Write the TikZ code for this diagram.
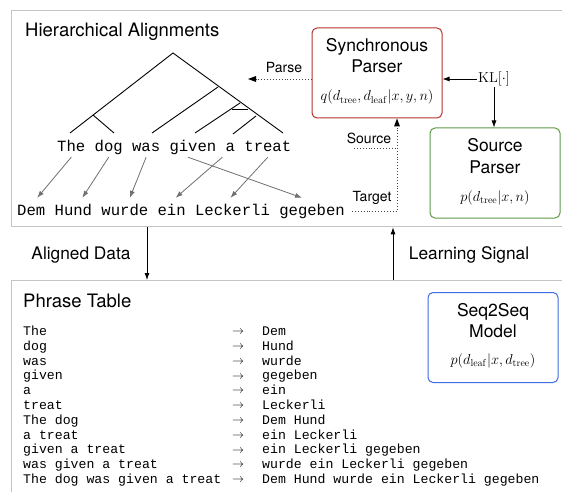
\documentclass[tikz,border=0pt]{standalone}
\usepackage[no-math]{fontspec}
\setmainfont{TeX Gyre Heros}
\setmonofont{Liberation Mono}
\usetikzlibrary{arrows.meta}
\definecolor{panelgray}{HTML}{C4C4C4}
\definecolor{boxred}{HTML}{B8332E}
\definecolor{boxgreen}{HTML}{5E9B47}
\definecolor{boxblue}{HTML}{3F6DE6}
\definecolor{aligngray}{HTML}{707070}
\definecolor{dotgray}{HTML}{444444}
\begin{document}
\begin{tikzpicture}[x=1pt,y=-1pt,
  panel/.style={draw=panelgray,line width=1.3pt,inner sep=0pt,anchor=north west},
  word/.style={font=\fontsize{15.6}{18}\selectfont\ttfamily,inner sep=0pt,anchor=base west,text height=11pt,text depth=3pt},
  ptab/.style={font=\fontsize{13.2}{15}\selectfont\ttfamily,inner sep=0pt,anchor=west,text height=9pt,text depth=3pt},
  parrow/.style={font=\fontsize{13}{15}\selectfont,inner sep=0pt},
  model/.style={rounded corners=5pt,line width=1pt,minimum width=130pt,minimum height=90pt,inner sep=0pt},
  boxtxt/.style={font=\fontsize{17.5}{20}\selectfont,inner sep=0pt,anchor=base},
  formula/.style={font=\fontsize{14.8}{17}\selectfont,inner sep=0pt,anchor=base},
  title/.style={font=\fontsize{18.5}{22}\selectfont,inner sep=0pt,anchor=base west},
  midlbl/.style={font=\fontsize{17.3}{20}\selectfont,inner sep=0pt,anchor=base},
  smalllbl/.style={font=\fontsize{14}{16}\selectfont,inner sep=0pt,anchor=base},
  arr/.style={-{Latex[length=7pt,width=5pt]},line width=0.8pt},
  alignarr/.style={draw=aligngray,-{Latex[length=7pt,width=5pt]},line width=0.8pt},
  dotarr/.style={dotgray,dotted,line width=0.9pt},
  treeline/.style={line width=0.9pt}
]
\useasboundingbox (0,0) rectangle (562,492);
\fill[white] (0,0) rectangle (562,492);

% panels
\node[panel,minimum width=580pt,minimum height=216pt] (toppanel) at (11,10) {};
\node[panel,minimum width=580pt,minimum height=240pt] (botpanel) at (11,280) {};

\node[title] (t1) at (25,37) {Hierarchical Alignments};
\node[title] (t2) at (23,307) {Phrase Table};

% tree
\coordinate (root) at (173,53);
\coordinate (lb) at (70,133);
\coordinate (ln) at (93,115);
\coordinate (lr) at (114,133);
\coordinate (rb) at (283,133);
\coordinate (n1) at (218,87);
\coordinate (n1l) at (152,133);
\coordinate (n2) at (240,103);
\coordinate (n2l) at (195,133);
\coordinate (bar1) at (232,109);
\coordinate (bar2) at (248,109);
\coordinate (n3) at (256,116);
\coordinate (n3l) at (233,134);
\draw[treeline] (lb) -- (root) -- (rb);
\draw[treeline] (ln) -- (lr);
\draw[treeline] (n1) -- (n1l);
\draw[treeline] (n2) -- (n2l);
\draw[treeline] (bar1) -- (bar2);
\draw[treeline] (n3) -- (n3l);

% source words
\node[word] (sThe) at (57+0*9.36,152) {The};
\node[word] (sdog) at (57+4*9.36,152) {dog};
\node[word] (swas) at (57+8*9.36,152) {was};
\node[word] (sgiven) at (57+12*9.36,152) {given};
\node[word] (sa) at (57+18*9.36,152) {a};
\node[word] (streat) at (57+20*9.36,152) {treat};
% target words
\node[word] (tDem) at (17+0*9.36,215) {Dem};
\node[word] (tHund) at (17+4*9.36,215) {Hund};
\node[word] (twurde) at (17+9*9.36,215) {wurde};
\node[word] (tein) at (17+15*9.36,215) {ein};
\node[word] (tLeckerli) at (17+19*9.36,215) {Leckerli};
\node[word] (tgegeben) at (17+28*9.36,215) {gegeben};

\draw[alignarr] ([yshift=-2pt]sThe.south) -- ([xshift=6pt,yshift=6pt]tDem.north);
\draw[alignarr] ([yshift=-2pt]sdog.south) -- ([xshift=9pt,yshift=6pt]tHund.north);
\draw[alignarr] ([yshift=-2pt]swas.south) -- ([xshift=5pt,yshift=6pt]twurde.north);
\draw[alignarr] ([xshift=-5pt,yshift=-2pt]sgiven.south) -- ([xshift=-10pt,yshift=6pt]tgegeben.north);
\draw[alignarr] ([xshift=-8pt,yshift=-2pt]sa.south) -- ([xshift=4pt,yshift=6pt]tein.north);
\draw[alignarr] ([yshift=-2pt]streat.south) -- ([xshift=-2pt,yshift=6pt]tLeckerli.north);

% model boxes
\node[model,draw=boxred] (sync) at (377,73) {};
\node[boxtxt] (syncA) at (377,52) {Synchronous};
\node[boxtxt] (syncB) at (377,73) {Parser};
\node[formula] (syncF) at (377,101) {$q(d_{\mathrm{tree}}, d_{\mathrm{leaf}}|x,y,n)$};

\node[model,draw=boxgreen] (src) at (495,173) {};
\node[boxtxt] (srcA) at (495,152) {Source};
\node[boxtxt] (srcB) at (495,173) {Parser};
\node[formula] (srcF) at (495,201) {$p(d_{\mathrm{tree}}|x,n)$};

\node[model,draw=boxblue] (seq) at (493,337.5) {};
\node[boxtxt] (seqA) at (493,316) {Seq2Seq};
\node[boxtxt] (seqB) at (493,337) {Model};
\node[formula] (seqF) at (493,364) {$p(d_{\mathrm{leaf}}|x,d_{\mathrm{tree}})$};

% KL
\node[font=\fontsize{15.5}{18}\selectfont,inner sep=1pt] (KL) at (494,79) {$\mathrm{KL}[\cdot]$};
\draw[arr] (KL.west) -- (KL.west -| sync.east);
\draw[arr] (KL.south) -- (KL.south |- src.north);

% Parse
\coordinate (parseend) at (248,79);
\draw[dotarr] ([yshift=-6pt]sync.west) -- ([xshift=8pt]parseend);
\fill[black] (parseend) -- ++(8,-3) -- ++(0,6) -- cycle;
\node[smalllbl] (parselbl) at (284,73) {Parse};

% Source / Target
\coordinate (tgtL) at (352,211);
\coordinate (corner) at (397,211);
\coordinate (srcL) at (354,148);
\coordinate (srcJ) at (397,148);
\draw[dotarr] (tgtL) -- (corner) -- ([yshift=-8pt]corner |- sync.south);
\fill[black] (corner |- sync.south) -- ++(-3,8) -- ++(6,0) -- cycle;
\draw[dotarr] (srcL) -- (srcJ);
\node[smalllbl] (srclbl) at (369,143) {Source};
\node[smalllbl] (tgtlbl) at (372,201) {Target};

% middle arrows
\coordinate (adx) at (147,0);
\coordinate (lsx) at (393,0);
\draw[arr] (toppanel.south -| adx) -- (botpanel.north -| adx);
\draw[arr] (botpanel.north -| lsx) -- (toppanel.south -| lsx);
\node[midlbl] (al) at (81,259) {Aligned Data};
\node[midlbl] (ls) at (469,259) {Learning Signal};

% phrase table
\foreach \s/\t [count=\i] in {The/Dem, dog/Hund, was/wurde, given/gegeben, a/ein, treat/Leckerli, The dog/Dem Hund, a treat/ein Leckerli, given a treat/ein Leckerli gegeben, was given a treat/wurde ein Leckerli gegeben, The dog was given a treat/Dem Hund wurde ein Leckerli gegeben}{
  \node[ptab] (ps\i) at (23,332.5+14.8*\i-14.8) {\s};
  \node[parrow] (pa\i) at (238,332.5+14.8*\i-14.8) {$\rightarrow$};
  \node[ptab] (pt\i) at (262,332.5+14.8*\i-14.8) {\t};
}
\end{tikzpicture}
\end{document}
